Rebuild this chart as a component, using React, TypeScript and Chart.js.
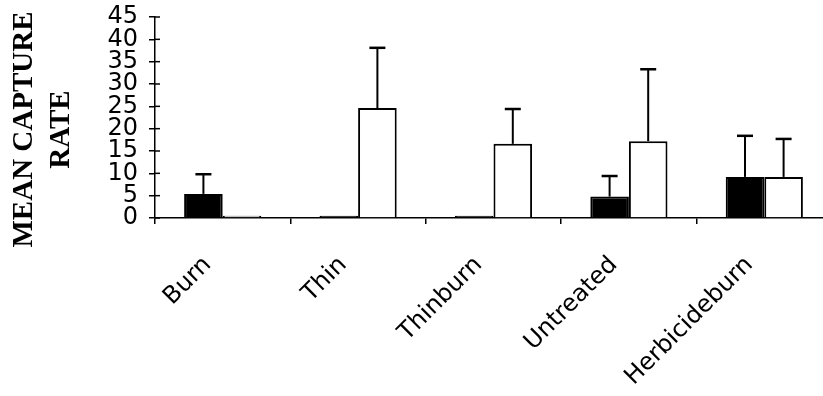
import React, { useEffect, useRef } from "react";
import { Chart, registerables } from "chart.js";

Chart.register(...registerables);

// Treatments along the x axis
const categories = ["Burn", "Thin", "Thinburn", "Untreated", "Herbicideburn"];

// Mean capture rate for the two groups (black and white bars)
const blackMeans = [5.4, 0.5, 0.5, 4.8, 9.2];
const whiteMeans = [0.5, 24.6, 16.6, 17.2, 9.2];

// Upper error bar lengths for each group
const blackErrors = [4.4, 0, 0, 4.6, 9.2];
const whiteErrors = [0, 13.5, 7.8, 16.1, 8.5];

// Y axis range and step
const yMin = 0;
const yMax = 45;
const yStep = 5;

const titleLines = ["MEAN CAPTURE", "RATE"];

const errorBarPlugin = {
  id: "errorBars",
  afterDatasetsDraw(chart: any) {
    const ctx = chart.ctx;
    const yScale = chart.scales.y;
    const errs = [blackErrors, whiteErrors];
    ctx.save();
    ctx.strokeStyle = "#000";
    chart.data.datasets.forEach((ds: any, di: number) => {
      const meta = chart.getDatasetMeta(di);
      meta.data.forEach((bar: any, i: number) => {
        const e = errs[di][i];
        if (!e) return;
        const top = yScale.getPixelForValue(ds.data[i] + e);
        ctx.lineWidth = 2;
        ctx.beginPath();
        ctx.moveTo(bar.x, bar.y);
        ctx.lineTo(bar.x, top);
        ctx.stroke();
        ctx.lineWidth = 2.5;
        ctx.beginPath();
        ctx.moveTo(bar.x - 8, top);
        ctx.lineTo(bar.x + 8, top);
        ctx.stroke();
      });
    });
    ctx.restore();
  },
};

// Short inner tick marks so the y ticks cross the axis line
const innerTickPlugin = {
  id: "innerTicks",
  afterDraw(chart: any) {
    const ctx = chart.ctx;
    const y = chart.scales.y;
    const left = chart.chartArea.left;
    ctx.save();
    ctx.strokeStyle = "#000";
    ctx.lineWidth = 1.5;
    y.ticks.forEach((_t: any, i: number) => {
      const py = y.getPixelForTick(i);
      ctx.beginPath();
      ctx.moveTo(left, py);
      ctx.lineTo(left + 5, py);
      ctx.stroke();
    });
    ctx.restore();
  },
};

const yTitlePlugin = {
  id: "yTitle",
  afterDraw(chart: any) {
    const ctx = chart.ctx;
    const area = chart.chartArea;
    ctx.save();
    ctx.fillStyle = "#000";
    ctx.font = "bold 29px 'Liberation Serif', 'Times New Roman', serif";
    ctx.textAlign = "center";
    ctx.textBaseline = "middle";
    const cy = (area.top + area.bottom) / 2 + 12;
    titleLines.forEach((line, i) => {
      ctx.save();
      ctx.translate(25 + i * 37, cy);
      ctx.rotate(-Math.PI / 2);
      ctx.fillText(line, 0, 0);
      ctx.restore();
    });
    ctx.restore();
  },
};

export default function App() {
  const ref = useRef<HTMLCanvasElement>(null);

  useEffect(() => {
    if (!ref.current) return;
    const chart = new Chart(ref.current, {
      type: "bar",
      data: {
        labels: categories,
        datasets: [
          {
            data: blackMeans,
            backgroundColor: "#000",
            borderColor: "#000",
            borderWidth: 2,
            categoryPercentage: 0.57,
            barPercentage: 1,
          },
          {
            data: whiteMeans,
            backgroundColor: "#fff",
            borderColor: "#000",
            borderWidth: 2,
            categoryPercentage: 0.57,
            barPercentage: 1,
          },
        ],
      },
      options: {
        responsive: false,
        animation: false,
        layout: { padding: { left: 0, top: 17, right: 13, bottom: 0 } },
        plugins: {
          legend: { display: false },
          tooltip: { enabled: false },
        },
        scales: {
          x: {
            grid: {
              drawOnChartArea: false,
              drawTicks: true,
              tickLength: 6,
              color: "#000",
              lineWidth: 1.5,
            },
            border: { color: "#000", width: 1.5, dash: [14, 5] },
            ticks: {
              color: "#000",
              font: { family: "'DejaVu Sans', sans-serif", size: 24 },
              maxRotation: 45,
              minRotation: 45,
              padding: 27,
              labelOffset: -15,
            },
            afterFit: (s: any) => {
              s.height = 178;
              s.paddingLeft = 0;
              s.paddingRight = 0;
            },
          },
          y: {
            min: yMin,
            max: yMax,
            grid: {
              drawOnChartArea: false,
              tickLength: 6,
              color: "#000",
              lineWidth: 1.5,
            },
            border: { color: "#000", width: 1.5, dash: [14, 5] },
            ticks: {
              stepSize: yStep,
              autoSkip: false,
              color: "#000",
              padding: 11,
              font: { family: "'DejaVu Sans', sans-serif", size: 24 },
            },
            afterFit: (s: any) => {
              s.width = 155;
              s.paddingTop = 0;
              s.paddingBottom = 0;
            },
          },
        },
      },
      plugins: [errorBarPlugin, innerTickPlugin, yTitlePlugin],
    });
    return () => chart.destroy();
  }, []);

  return (
    <div
      style={{
        position: "absolute",
        left: 0,
        top: 0,
        width: 823,
        height: 396,
        overflow: "hidden",
        background: "#fff",
      }}
    >
      <canvas ref={ref} width={845} height={396} style={{ display: "block" }} />
    </div>
  );
}
